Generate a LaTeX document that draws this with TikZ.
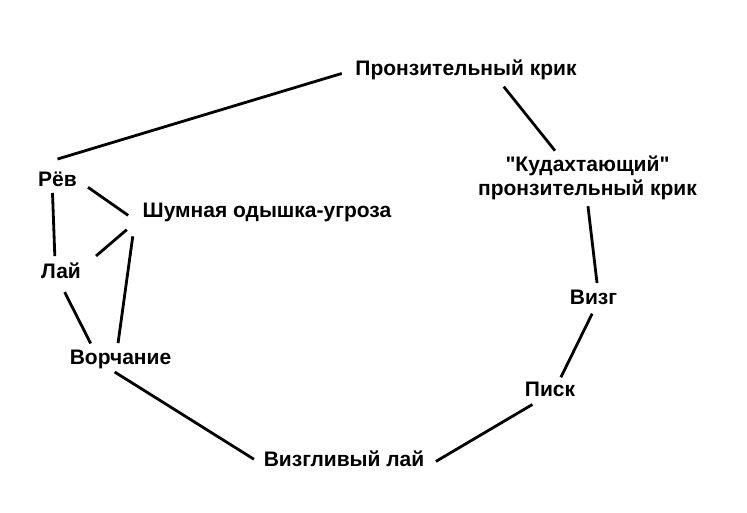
\documentclass[tikz,border=0pt]{standalone}
\usepackage{fontspec}
\newfontfamily\callfont{Liberation Sans}
\usepackage{tikz}
\tikzstyle{call} = [inner sep=2pt, font=\callfont\bfseries\fontsize{21}{24}\selectfont]
\tikzstyle{sound} = [call, text height=15pt, text depth=4.5pt]
\tikzstyle{wire} = [line width=2.8pt]
\newcommand{\link}[3][]{ %
  % Join node #2 to node #3.
  \draw[wire, #1] (#2) -- (#3) ;%
}

\begin{document}
\begin{tikzpicture}[x=1pt,y=-1pt]
  \useasboundingbox (0,0) rectangle (747,512);
  \node[sound](pron) at (466,70) {Пронзительный крик};
  \node[sound](rev) at (57.5,181) {Рёв};
  \node[sound](shum) at (267,212) {Шумная одышка-угроза};
  \node[sound](lai) at (61,273) {Лай};
  \node[sound](vorch) at (120.5,359) {Ворчание};
  \node[sound](vizgl) at (344,461) {Визгливый лай};
  \node[call, align=center](kud) at (587.5,178) {"Кудахтающий"\\пронзительный крик};
  \node[sound](vizg) at (593.5,299) {Визг};
  \node[sound](pisk) at (550,391) {Писк};
  \link[shorten >=12pt]{[yshift=10pt]rev.north}{pron.west};
  \link[shorten <=6pt, shorten >=4pt]{[xshift=34pt]pron.south}{[xshift=-30pt]kud.north};
  \link[shorten <=4pt, shorten >=4pt]{kud.south}{[xshift=4pt]vizg.north};
  \link[shorten <=3pt, shorten >=2pt]{vizg.south}{[xshift=10pt]pisk.north};
  \link[shorten <=3pt, shorten >=11pt]{[xshift=-15pt]pisk.south}{[yshift=-6pt]vizgl.east};
  \link[shorten <=9pt, shorten >=2pt]{[yshift=-3pt]vizgl.west}{[xshift=-7.5pt]vorch.south};
  \link[shorten <=4pt, shorten >=8pt]{[xshift=-28pt]vorch.north}{lai.south};
  \link[shorten <=5pt]{[xshift=-6pt]lai.north}{[xshift=-5pt]rev.south};
  \link[shorten <=11pt, shorten >=15pt]{rev.east}{shum.south west};
  \link[shorten <=17pt, shorten >=18pt]{[yshift=6pt]lai.east}{[yshift=6pt]shum.south west};
  \link[shorten <=4pt, shorten >=12.5pt]{[xshift=-3pt]vorch.north}{[xshift=-6pt]shum.south west};
\end{tikzpicture}
\end{document}
